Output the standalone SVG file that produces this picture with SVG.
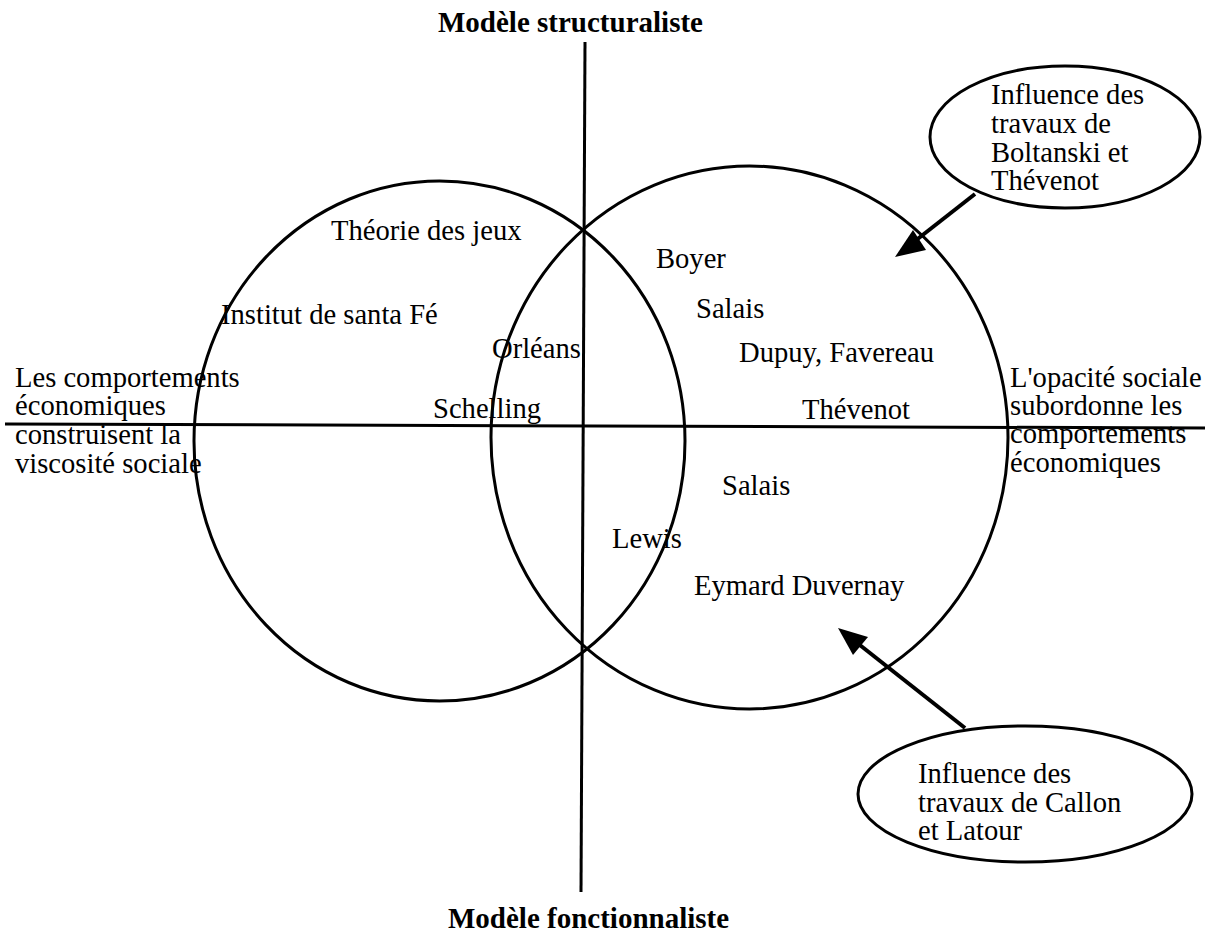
<svg xmlns="http://www.w3.org/2000/svg" width="1222" height="935" viewBox="0 0 1222 935">
  <style>
    .t { font-family: "Liberation Serif", "Times New Roman", serif; font-size: 28.6px; fill: #000; }
    .b { font-family: "Liberation Serif", "Times New Roman", serif; font-size: 29px; font-weight: bold; fill: #000; }
    .ln { stroke: #000; stroke-width: 3; fill: none; }
    .bub { stroke: #000; stroke-width: 3; fill: #fff; }
    .arr { stroke: #000; stroke-width: 4; fill: none; }
  </style>
  <rect width="1222" height="935" fill="#fff"/>

  <!-- axes -->
  <g id="axes">
    <line class="ln" x1="585" y1="42" x2="581" y2="892"/>
    <line class="ln" x1="5" y1="424" x2="1205" y2="428"/>
  </g>

  <!-- the two overlapping circles -->
  <g id="circle-left">
    <ellipse class="ln" cx="439.5" cy="441" rx="245.5" ry="260"/>
  </g>
  <g id="circle-right">
    <ellipse class="ln" cx="749.5" cy="437.5" rx="258.5" ry="271.5"/>
  </g>

  <!-- axis labels -->
  <g id="label-top"><text class="b" x="438" y="32">Modèle structuraliste</text></g>
  <g id="label-bottom"><text class="b" x="448" y="928">Modèle fonctionnaliste</text></g>
  <g id="label-left">
    <text class="t" x="15" y="387">Les comportements</text>
    <text class="t" x="15" y="415">économiques</text>
    <text class="t" x="15" y="444">construisent la</text>
    <text class="t" x="15" y="473">viscosité sociale</text>
  </g>
  <g id="label-right">
    <text class="t" x="1010" y="387">L'opacité sociale</text>
    <text class="t" x="1010" y="415">subordonne les</text>
    <text class="t" x="1010" y="443">comportements</text>
    <text class="t" x="1010" y="472">économiques</text>
  </g>

  <!-- authors and schools -->
  <g id="theorie-jeux"><text class="t" x="331" y="240">Théorie des jeux</text></g>
  <g id="santa-fe"><text class="t" x="221" y="324">Institut de santa Fé</text></g>
  <g id="orleans"><text class="t" x="492" y="358">Orléans</text></g>
  <g id="schelling"><text class="t" x="433" y="418">Schelling</text></g>
  <g id="boyer"><text class="t" x="656" y="268">Boyer</text></g>
  <g id="salais-1"><text class="t" x="696" y="318">Salais</text></g>
  <g id="dupuy"><text class="t" x="739" y="362">Dupuy, Favereau</text></g>
  <g id="thevenot"><text class="t" x="802" y="419">Thévenot</text></g>
  <g id="salais-2"><text class="t" x="722" y="495">Salais</text></g>
  <g id="lewis"><text class="t" x="612" y="548">Lewis</text></g>
  <g id="eymard"><text class="t" x="694" y="595">Eymard Duvernay</text></g>

  <!-- influence bubbles -->
  <g id="bubble-boltanski">
    <ellipse class="bub" cx="1065" cy="137" rx="135" ry="71"/>
    <text class="t" x="991" y="104">Influence des</text>
    <text class="t" x="991" y="133">travaux de</text>
    <text class="t" x="991" y="162">Boltanski et</text>
    <text class="t" x="991" y="190">Thévenot</text>
  </g>
  <g id="bubble-callon">
    <ellipse class="bub" cx="1025" cy="794" rx="167" ry="68"/>
    <text class="t" x="918" y="783">Influence des</text>
    <text class="t" x="918" y="812">travaux de Callon</text>
    <text class="t" x="918" y="840">et Latour</text>
  </g>

  <!-- connectors -->
  <g id="connectors">
    <line class="arr" x1="975" y1="194" x2="915" y2="241"/>
    <polygon points="895,257 913,230 926,250" fill="#000"/>
    <line class="arr" x1="965" y1="728" x2="856" y2="642"/>
    <polygon points="838,628 853,655 868,637" fill="#000"/>
  </g>
</svg>
